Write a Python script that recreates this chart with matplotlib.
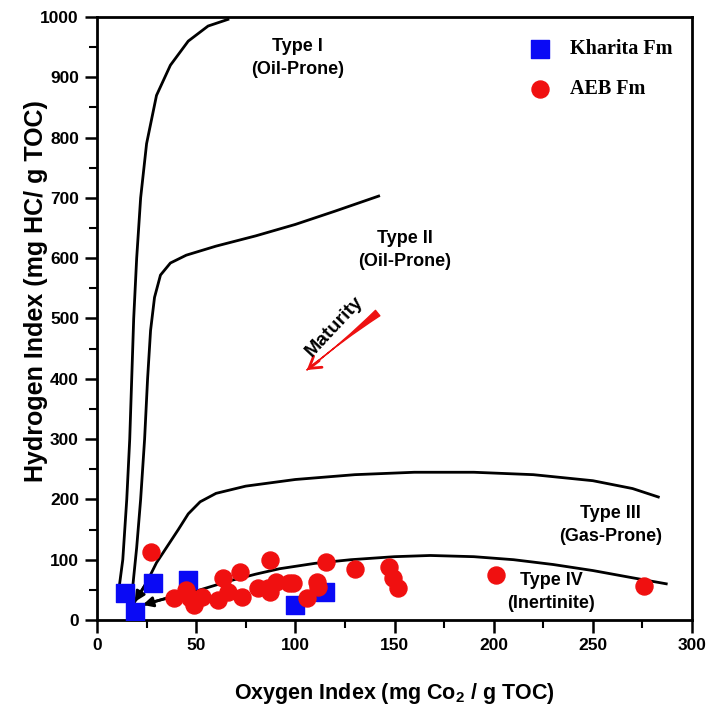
import matplotlib
matplotlib.use("Agg")
from matplotlib import pyplot as plt
import numpy as np

plt.rcParams['font.family'] = ['Liberation Sans', 'DejaVu Sans']
plt.rcParams['mathtext.fontset'] = 'custom'
plt.rcParams['mathtext.rm'] = 'Liberation Sans:bold'
plt.rcParams['mathtext.it'] = 'Liberation Sans:bold'
plt.rcParams['mathtext.bf'] = 'Liberation Sans:bold'

# Rock-Eval samples: oxygen index (mg CO2/g TOC), hydrogen index (mg HC/g TOC)
kharita_oi = [14, 19, 28, 46, 100, 115]
kharita_hi = [45, 13, 61, 66, 25, 46]

aeb_oi = [27, 39, 45, 47, 49, 53, 61, 63.5, 66, 72, 73, 81, 86, 87, 90, 87, 97, 99,
          106, 111, 111.5, 115.5, 130, 147, 149, 152, 201, 276]
aeb_hi = [113, 36, 50, 36, 25, 38, 33, 70, 46, 80, 38, 53, 53, 100, 63, 46, 61, 61,
          36, 63, 55, 96, 85, 88, 70, 53, 75, 56]

# kerogen type envelopes (van Krevelen style)
type1_oi = [11, 13, 15, 16.5, 17.5, 18.5, 20, 22, 25, 30, 37, 46, 56, 66]
type1_hi = [50, 100, 200, 300, 400, 500, 600, 700, 790, 870, 920, 960, 985, 996]

type2_oi = [18, 20, 22, 24, 25.5, 27, 29, 32, 37, 45, 60, 80, 100, 120, 142]
type2_hi = [55, 120, 200, 300, 400, 480, 535, 572, 592, 605, 620, 637, 656, 678, 703]

type3_oi = [19, 25, 30, 36, 41, 46, 52, 60, 75, 100, 130, 160, 190, 220, 250, 270, 283]
type3_hi = [30, 62, 95, 125, 150, 176, 196, 210, 222, 233, 241, 245, 245, 241, 231, 218, 204]

type4_oi = [23, 35, 50, 67, 80, 92, 110, 128, 150, 168, 190, 210, 230, 250, 270, 287]
type4_hi = [25, 36, 48, 65, 76, 85, 94, 100, 105, 107, 105, 100, 92, 82, 70, 60]

fig = plt.figure(figsize=(7.06, 7.08), dpi=100)
ax = fig.add_axes([0.1374, 0.1243, 0.8428, 0.8517])

for xs, ys in [(type1_oi, type1_hi), (type2_oi, type2_hi)]:
    ax.plot(xs, ys, color='black', lw=2, zorder=2)
for xs, ys in [(type3_oi, type3_hi), (type4_oi, type4_hi)]:
    ax.plot(xs, ys, color='black', lw=2, zorder=2)
    ax.annotate('', xy=(xs[0], ys[0]), xytext=(xs[1], ys[1]),
                arrowprops=dict(arrowstyle='-|>,head_length=0.6,head_width=0.3',
                                color='black', lw=2, shrinkA=0, shrinkB=0), zorder=2)

ax.scatter(kharita_oi, kharita_hi, marker='s', s=150, color='#0a0af5', zorder=3,
           label='Kharita Fm')
ax.scatter(aeb_oi, aeb_hi, marker='o', s=150, color='#f01010', zorder=4,
           label='AEB Fm')

# maturity trend arrow
tip = (105.8, 414.6)
tail = (141.5, 509)
ax.annotate('', xy=tip, xytext=tail,
            arrowprops=dict(arrowstyle='wedge,tail_width=0.5,shrink_factor=0.1',
                            color='#ee1111', shrinkA=0, shrinkB=0))
ax.annotate('', xy=tip, xytext=(112, 430),
            arrowprops=dict(arrowstyle='->,head_length=0.8,head_width=0.5',
                            color='#ee1111', lw=2, shrinkA=0, shrinkB=0))
ax.text(119.5, 486, 'Maturity', rotation=47, ha='center', va='center',
        fontsize=14, fontweight='bold')

lbl = dict(ha='center', va='center', fontsize=13, fontweight='bold', linespacing=1.45)
ax.text(101, 932, 'Type I\n(Oil-Prone)', **lbl)
ax.text(155, 614, 'Type II\n(Oil-Prone)', **lbl)
ax.text(259, 158, 'Type III\n(Gas-Prone)', **lbl)
ax.text(229, 46, 'Type IV\n(Inertinite)', **lbl)

ax.set_xlim(0, 300)
ax.set_ylim(0, 1000)
ax.set_xticks(np.arange(0, 301, 50))
ax.set_xticks(np.arange(25, 300, 50), minor=True)
ax.set_yticks(np.arange(0, 1001, 100))
ax.set_yticks(np.arange(50, 1000, 100), minor=True)
ax.tick_params(which='major', direction='out', length=9, width=1.8, labelsize=12.5, pad=4)
ax.tick_params(which='minor', direction='out', length=6, width=1.5)
for t in ax.get_xticklabels() + ax.get_yticklabels():
    t.set_fontweight('bold')
for s in ax.spines.values():
    s.set_linewidth(2)

ax.set_xlabel('Oxygen Index (mg Co$_2$ / g TOC)', fontsize=15.5, fontweight='bold', labelpad=20)
ax.set_ylabel('Hydrogen Index (mg HC/ g TOC)', fontsize=18, fontweight='bold')
ax.yaxis.set_label_coords(-0.082, 0.546)

ax.legend(loc='upper left', bbox_to_anchor=(0.68, 0.993), frameon=False,
          prop={'family': 'Liberation Serif', 'weight': 'bold', 'size': 14.5},
          labelspacing=1.0, handletextpad=0.5, scatterpoints=1)

fig.savefig('out.png', dpi=100)
